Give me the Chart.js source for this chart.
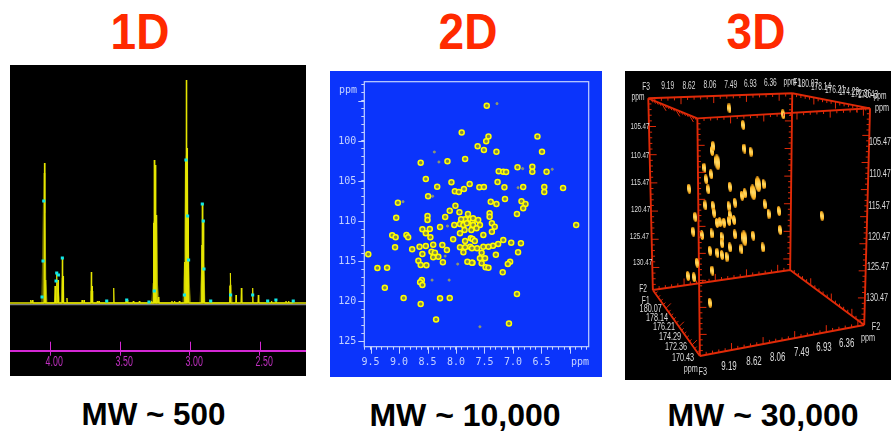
<!DOCTYPE html>
<html><head><meta charset="utf-8">
<script src="https://cdn.jsdelivr.net/npm/chart.js@4/dist/chart.umd.min.js"></script>
<style>
html,body{margin:0;padding:0;background:#fff;width:891px;height:436px;overflow:hidden}
.t{position:absolute;font-family:"Liberation Sans",Arial,sans-serif;font-weight:bold;white-space:nowrap;line-height:1}
.h{color:#ff2a00;font-size:46px;top:32px;transform:translate(-50%,-50%) scaleY(1.08)}
.m{color:#000;font-size:32px;top:415px;transform:translate(-50%,-50%)}
.p{position:absolute;filter:blur(0.45px)}
canvas{display:block}
</style></head><body>
<div class="t h" style="left:140px">1D</div>
<div class="t h" style="left:468px">2D</div>
<div class="t h" style="left:756px">3D</div>
<div class="t m" style="left:153.5px;font-size:31.4px">MW ~ 500</div>
<div class="t m" style="left:465px">MW ~ 10,000</div>
<div class="t m" style="left:763px">MW ~ 30,000</div>
<div class="p" style="left:10px;top:65px;width:296px;height:311px;background:#000"><canvas id="c1" width="296" height="311"></canvas></div>
<div class="p" style="left:330px;top:71px;width:272px;height:306px;background:#0b34fb"><canvas id="c2" width="272" height="306"></canvas></div>
<div class="p" style="left:625px;top:71px;width:266px;height:309px;background:#000"><canvas id="c3" width="266" height="309"></canvas></div>
<script>
// ---------- 1D spectrum ----------
const peak1dPpm = [4.138,4.126,4.040,4.031,3.964,3.952,3.943,3.912,3.907,3.879,3.771,3.757,3.705,3.700,3.662,3.650,3.595,3.545,3.457,3.448,3.405,3.362,3.293,3.274,3.260,3.255,3.248,3.238,3.226,3.129,3.110,3.076,3.038,3.029,3.026,3.021,3.014,3.010,2.914,2.912,2.905,2.900,2.852,2.714,2.710,2.671,2.633,2.552,2.512,2.443,2.417,2.386,2.314,2.295,2.267];
const peak1dHeight = [3,3,140,23,17,30,23,45,27,5,3,3,31,17,2,2,2,15,2,3,2,2,1,2,80,143,138,88,6,2,2,2,41,143,223,155,87,43,58,100,83,35,1,17,30,8,15,15,8,2,2,4,2,2,2];
const envelopePpm = [4.060,4.055,4.050,4.043,4.036,4.029,4.021,3.969,3.960,3.948,3.938,3.929,3.919,3.914,3.905,3.900,3.714,3.710,3.698,3.693,3.274,3.264,3.260,3.240,3.233,3.219,3.050,3.040,3.033,3.019,3.014,3.005,2.995,2.929,2.919,2.914,2.900,2.893,2.721,2.717,2.705,2.698];
const envelopeHeight = [0,30,80,130,90,20,0,0,15,20,10,0,0,25,25,0,0,12,12,0,0,20,80,88,20,0,0,40,140,155,87,20,0,0,30,58,35,0,0,18,18,0];
const cyanPpm = [4.045,4.050,4.057,3.952,3.940,3.957,3.912,3.029,3.017,3.010,2.912,2.905,2.900,3.040,3.255,2.710,2.552,2.445,2.386,2.262,3.452,3.595,3.293,2.852];
const cyanHeight = [102,42,6,30,28,22,45,143,87,43,99,82,34,8,12,8,8,2,3,2,3,2,1,2];
const spectrumTicks = [4.0,3.5,3.0,2.5];

// ---------- 2D HSQC ----------
const peak2dF2 = [7.46,7.90,7.43,7.47,7.62,7.51,7.29,6.57,6.49,8.15,7.84,8.62,6.92,6.66,6.66,7.25,7.17,7.12,6.41,8.53,8.08,7.76,7.27,8.33,7.59,7.51,7.15,6.82,6.45,6.45,6.12,7.86,8.02,7.95,8.49,7.14,9.02,7.39,7.29,6.85,6.78,6.82,8.01,8.11,7.94,7.79,7.41,7.41,6.93,9.05,8.50,8.50,8.19,7.84,7.75,7.71,7.91,8.28,8.03,7.93,7.87,7.81,7.71,7.85,7.93,8.05,7.84,7.74,8.59,8.46,8.53,8.45,9.12,9.06,8.87,8.84,9.07,8.77,8.64,8.53,8.40,8.59,8.43,8.37,8.24,8.16,7.93,7.84,7.75,7.87,8.40,8.31,8.66,8.62,8.52,8.23,7.80,7.71,7.70,7.61,7.58,7.70,7.64,7.73,7.37,7.37,7.32,7.52,7.71,7.67,6.86,7.03,7.17,7.26,7.35,7.43,7.52,7.63,7.72,7.55,7.30,6.91,7.72,7.05,7.09,7.58,7.49,7.55,7.48,7.43,7.18,5.89,9.54,9.38,9.21,9.25,8.92,8.62,8.60,8.63,8.59,8.28,8.11,8.35,7.07,6.93];
const peak2dF1 = [95.59,98.96,99.46,100.04,100.66,101.13,101.34,99.46,101.34,102.54,102.25,102.71,103.29,103.21,103.84,103.79,103.84,103.88,103.84,104.75,105.16,105.38,105.13,105.71,105.79,105.75,105.79,105.75,105.75,106.38,105.88,106.0,106.29,106.38,106.91,107.25,107.71,107.59,107.88,107.54,107.88,108.41,108.09,108.71,108.91,109.13,109.04,109.46,109.13,109.59,109.38,109.88,109.5,109.79,109.79,110.09,109.79,110.75,110.5,110.38,110.5,110.29,110.71,111.13,111.54,112.29,112.5,112.16,111.04,111.0,111.54,112.04,111.79,112.04,111.75,112.04,113.29,113.54,113.21,113.13,112.96,114.13,113.84,113.96,113.0,113.63,113.29,113.29,113.21,113.91,114.54,114.46,114.96,115.5,115.54,115.16,115.09,115.21,109.66,109.88,110.5,110.5,110.91,111.13,110.29,111.34,110.71,111.75,112.25,112.5,112.79,112.71,112.38,112.88,113.09,113.21,113.21,113.41,113.41,113.96,114.21,113.91,115.21,115.09,115.38,114.66,114.66,115.29,115.79,115.84,116.41,110.5,114.16,115.88,115.84,118.34,119.63,120.38,117.38,117.66,118.0,119.66,119.63,122.29,122.79,119.13];
const weak2dF2 = [7.28,8.38,8.30,6.83,6.31,6.91,8.41,8.93,8.15,8.19,7.97,8.42,8.12,7.58];
const weak2dF1 = [95.34,101.38,102.63,103.46,103.54,105.84,106.91,107.59,110.63,114.38,115.38,117.38,117.38,123.21];
const xTickLabels2d = ['9.5','9.0','8.5','8.0','7.5','7.0','6.5'];
const yTickLabels2d = ['100','105','110','115','120','125'];

// ---------- 3D cube ----------
const peak3dF3 = [9.18,7.89,8.85,8.82,8.67,9.60,9.57,9.78,9.62,9.74,9.69,10.15,9.17,8.36,8.81,8.88,9.05,8.33,7.99,6.96,8.24,9.76,9.58,9.55,9.20,9.17,10.0,9.48,9.41,9.31,9.19,9.07,10.05,9.84,9.61,9.37,9.36,9.17,9.05,8.61,7.96,8.38,8.89,9.65,9.47,9.36,9.25,9.96,9.59,10.18,10.03,9.65];
const peak3dF2 = [102.09,103.19,105.16,109.51,110.07,109.94,109.02,113.06,114.22,115.14,116.98,116.87,116.5,116.0,117.71,118.15,119.44,119.73,120.97,121.83,121.46,119.92,119.99,121.28,120.05,121.70,122.07,123.17,122.99,123.12,122.8,122.62,124.77,125.38,125.07,125.69,126.9,127.64,125.25,125.51,124.46,127.64,128.0,128.26,128.69,129.05,129.37,130.47,131.94,132.91,133.15,137.82];
const strong3dF3 = [9.47,8.49,8.61,8.82];
const strong3dF2 = [112.01,116.06,117.53,125.98];
const cornerF3 = [11.13,7.67,9.95,5.80,11.02,7.72,9.89,5.94];
const cornerF2 = [100.25,99.33,103.93,102.09,135.49,131.81,147.62,141.92];
const f2Labels = ['105.47','110.47','115.47','120.47','125.47','130.47'];
const f3Labels = ['9.19','8.62','8.06','7.49','6.93','6.36'];
const f1Labels = ['180.07','178.14','176.21','174.29','172.36','170.43'];

Chart.defaults.animation = false;
Chart.defaults.responsive = false;
Chart.defaults.layout.autoPadding = false;
Chart.defaults.plugins.legend.display = false;
Chart.defaults.plugins.tooltip.enabled = false;

// ===== chart 1 =====
const MAG = '#d428d4';
const trace1 = [];
peak1dPpm.forEach((p,i)=>{ trace1.push({x:p+0.0035,y:0},{x:p,y:peak1dHeight[i]},{x:p-0.0035,y:0}); });
new Chart(document.getElementById('c1'),{
  type:'scatter',
  data:{datasets:[
    {label:'Envelope',data:envelopePpm.map((p,i)=>({x:p,y:envelopeHeight[i]})),showLine:true,borderColor:'#5e5e00',borderWidth:1,backgroundColor:'#5e5e00',fill:'origin',pointRadius:0,order:4},
    {label:'Noise floor',data:[{x:4.286,y:-1.6},{x:2.171,y:-1.6}],showLine:true,borderColor:'#808080',borderWidth:1.2,pointRadius:0,order:3},
    {label:'Baseline',data:[{x:4.286,y:0},{x:2.171,y:0}],showLine:true,borderColor:'#e6e600',borderWidth:1.6,pointRadius:0,order:2},
    {label:'Spectrum',data:trace1,showLine:true,borderColor:'#e6e600',borderWidth:.9,pointRadius:0,order:1},
    {label:'Overlay',data:cyanPpm.map((p,i)=>({x:p,y:cyanHeight[i]})),pointStyle:'rect',pointRadius:2.2,pointBorderWidth:0,backgroundColor:'#10e8e8',order:0}
  ]},
  options:{
    layout:{padding:0},
    scales:{
      x:{type:'linear',reverse:true,min:2.171,max:4.286,
        afterFit(s){s.height=25.3;s.paddingLeft=0;s.paddingRight=0;},
        afterBuildTicks(s){s.ticks=spectrumTicks.map(v=>({value:v}));},
        border:{color:MAG,width:2},
        grid:{drawOnChartArea:false,color:MAG,tickColor:MAG,tickLength:5,lineWidth:1},
        ticks:{display:false}
      },
      y:{display:false,min:-47.7,max:238}
    }
  },
  plugins:[{id:'upTicks',afterDatasetsDraw(c){
    const g=c.ctx,s=c.scales.x,b=c.chartArea.bottom;
    g.save();g.strokeStyle=MAG;g.lineWidth=1;g.fillStyle='#c030c0';g.textAlign='center';g.textBaseline='middle';
    spectrumTicks.forEach(v=>{
      const x=Math.round(s.getPixelForValue(v))+.5;
      g.beginPath();g.moveTo(x,b);g.lineTo(x,b-9);g.stroke();
      g.save();g.translate(x+3.7,b+11.5);g.scale(.63,1);g.font='14px "Liberation Sans"';g.fillText(v.toFixed(2),0,0);g.restore();
    });
    g.restore();
  }}]
});

// ===== chart 2 =====
const LB = '#c4d2ff';
const isMajor = (v,step)=>Math.abs(v/step-Math.round(v/step))<1e-6;
new Chart(document.getElementById('c2'),{
  type:'scatter',
  data:{datasets:[
    {label:'Cross peaks',data:peak2dF2.map((p,i)=>({x:p,y:peak2dF1[i]})),pointRadius:2.5,pointBorderWidth:1.5,borderColor:'#ffff00',backgroundColor:'#80884c'},
    {label:'Weak peaks',data:weak2dF2.map((p,i)=>({x:p,y:weak2dF1[i]})),pointRadius:1.1,pointBorderWidth:.7,borderColor:'#b0b040',backgroundColor:'#7a8a90'}
  ]},
  options:{
    layout:{padding:{top:10.7,right:13.3,left:0,bottom:0}},
    scales:{
      x:{type:'linear',reverse:true,min:5.67,max:9.61,
        afterFit(s){s.height=30.3;s.paddingLeft=0;s.paddingRight=0;},
        border:{display:false},
        grid:{drawOnChartArea:false,tickColor:LB,tickLength:3,lineWidth:1},
        ticks:{stepSize:0.1,includeBounds:false,autoSkip:false,maxRotation:0,padding:7,color:LB,font:{family:'"DejaVu Sans Mono"',size:10},
          callback:v=>{const s=Number(v).toFixed(1);return xTickLabels2d.includes(s)?s:'';}}
      },
      y:{type:'linear',reverse:true,min:92.6,max:125.7,
        afterFit(s){s.width=34.3;s.paddingTop=0;s.paddingBottom=0;},
        border:{display:false},
        grid:{drawOnChartArea:false,tickColor:LB,tickLength:3,lineWidth:1},
        ticks:{stepSize:1,includeBounds:false,autoSkip:false,padding:5,color:LB,font:{family:'"DejaVu Sans Mono"',size:10},
          callback:v=>{const s=String(Math.round(v));return yTickLabels2d.includes(s)?s:'';}}
      }
    }
  },
  plugins:[{id:'frame2d',afterDatasetsDraw(c){
    const g=c.ctx,a=c.chartArea,sx=c.scales.x,sy=c.scales.y;
    g.save();g.strokeStyle=LB;g.lineWidth=1.2;
    g.strokeRect(a.left,a.top,a.right-a.left,a.bottom-a.top);
    g.lineWidth=1;
    sx.ticks.forEach(t=>{if(isMajor(t.value,.5)){const x=Math.round(sx.getPixelForValue(t.value))+.5;g.beginPath();g.moveTo(x,a.bottom);g.lineTo(x,a.bottom+7);g.stroke();}});
    sy.ticks.forEach(t=>{if(isMajor(t.value,5)){const y=Math.round(sy.getPixelForValue(t.value))+.5;g.beginPath();g.moveTo(a.left,y);g.lineTo(a.left-6,y);g.stroke();}});
    g.fillStyle=LB;g.font='10px "DejaVu Sans Mono"';g.textAlign='center';g.textBaseline='middle';
    g.fillText('ppm',18,19);
    g.fillText('ppm',250,291);
    g.restore();
  }}]
});

// ===== chart 3 =====
function blob(w,h){
  const k=document.createElement('canvas');k.width=w;k.height=h;
  const g=k.getContext('2d'),r=g.createRadialGradient(w/2,h/2,0,w/2,h/2,h/2);
  r.addColorStop(0,'#ffe070');r.addColorStop(.65,'#ffb828');r.addColorStop(1,'#d88a10');
  g.fillStyle=r;g.beginPath();g.ellipse(w/2,h/2,w/2,h/2,-0.12,0,Math.PI*2);g.fill();
  return k;
}
// corner indices: 0 back-left-top,1 back-right-top,2 front-left-top,3 front-right-top, 4..7 same at the bottom
const edges = [[0,1],[1,3],[3,2],[2,0],[4,5],[5,7],[7,6],[6,4],[0,4],[1,5],[2,6],[3,7]];
const edgePath = [];
edges.forEach(e=>{edgePath.push({x:cornerF3[e[0]],y:cornerF2[e[0]]},{x:cornerF3[e[1]],y:cornerF2[e[1]]},{x:null,y:null});});
const RED='#e02a08';
new Chart(document.getElementById('c3'),{
  type:'scatter',
  data:{datasets:[
    {label:'Cube',data:edgePath,showLine:true,spanGaps:false,borderColor:RED,borderWidth:1.9,pointRadius:0,order:1},
    {label:'Peaks',data:peak3dF3.map((p,i)=>({x:p,y:peak3dF2[i]})),pointStyle:blob(4,10),pointRadius:5,order:0},
    {label:'Strong peaks',data:strong3dF3.map((p,i)=>({x:p,y:strong3dF2[i]})),pointStyle:blob(6,16),pointRadius:7,order:0}
  ]},
  options:{
    layout:{padding:0},
    scales:{
      x:{display:false,type:'linear',reverse:true,min:5.296,max:11.69},
      y:{display:false,type:'linear',reverse:true,min:95.23,max:152.03}
    }
  },
  plugins:[{id:'cube',afterDatasetsDraw(c){
    const g=c.ctx,sx=c.scales.x,sy=c.scales.y;
    const P=i=>[sx.getPixelForValue(cornerF3[i]),sy.getPixelForValue(cornerF2[i])];
    g.save();g.strokeStyle=RED;g.lineWidth=1;
    // [from,to,tick count,tick dx,tick dy]
    [[0,1,22,0,1],[2,3,26,0,1],[0,2,18,.6,1],[1,3,18,0,1],[4,5,22,0,-1],[6,7,26,0,-1],[4,6,18,.7,-.7],[5,7,18,0,-1],
     [0,4,34,1,0],[2,6,44,1,0],[1,5,32,-1,0],[3,7,40,-1,0]].forEach(([a,b,n,dx,dy])=>{
      const A=P(a),B=P(b);
      for(let i=1;i<n;i++){
        const t=i/n,x=A[0]+(B[0]-A[0])*t,y=A[1]+(B[1]-A[1])*t,l=i%5===0?7:3;
        g.beginPath();g.moveTo(x,y);g.lineTo(x+dx*l,y+dy*l);g.stroke();
      }
    });
    g.fillStyle='#dcdcdc';g.textAlign='center';g.textBaseline='middle';
    const T=(s,x,y,f)=>{g.save();g.translate(x-625,y-71);g.scale(.66,1);g.font=f+'px "Liberation Sans"';g.fillText(s,0,0);g.restore();};
    const L=[126.7,155,182.3,209.3,236.7,262.7],LX=[640,640,640,640.7,639.3,642.7];
    const R=[142,174,205.7,237,267,297.7],RX=[880,880,879,879,878,877];
    f2Labels.forEach((s,i)=>{T(s,LX[i],L[i],9.5);T(s,RX[i],R[i],11);});
    const TX=[667.7,689,710,730.7,750.3,770.3],TY=[86.7,86,85.7,85,84.3,83];
    const BX=[729,754,777.7,801.7,824,846.7],BY=[366.7,361.7,357.3,352.3,347.7,343.3];
    f3Labels.forEach((s,i)=>{T(s,TX[i],TY[i],10);T(s,BX[i],BY[i],12);});
    const UX=[808,821,835,849,861,868],UY=[84,87,90,92,94,95];
    const DX=[650.7,657,664,670,676,683],DY=[309.3,318,326.7,336.7,346.7,357.7];
    f1Labels.forEach((s,i)=>{T(s,UX[i],UY[i],10);T(s,DX[i],DY[i],11);});
    [['F3',646,87,10],['ppm',790,82.3,10],['F1',797,83,10],['ppm',880,96,10],['ppm',638,97.3,10],['ppm',882,108,11],
     ['F2',876,327,11],['ppm',868,337.7,11],['F2',643,289,10],['F1',645.7,301,10],['ppm',690.7,369,11],['F3',702.7,372.3,11]].forEach(a=>T(...a));
    g.restore();
  }}]
});
</script>
</body></html>
